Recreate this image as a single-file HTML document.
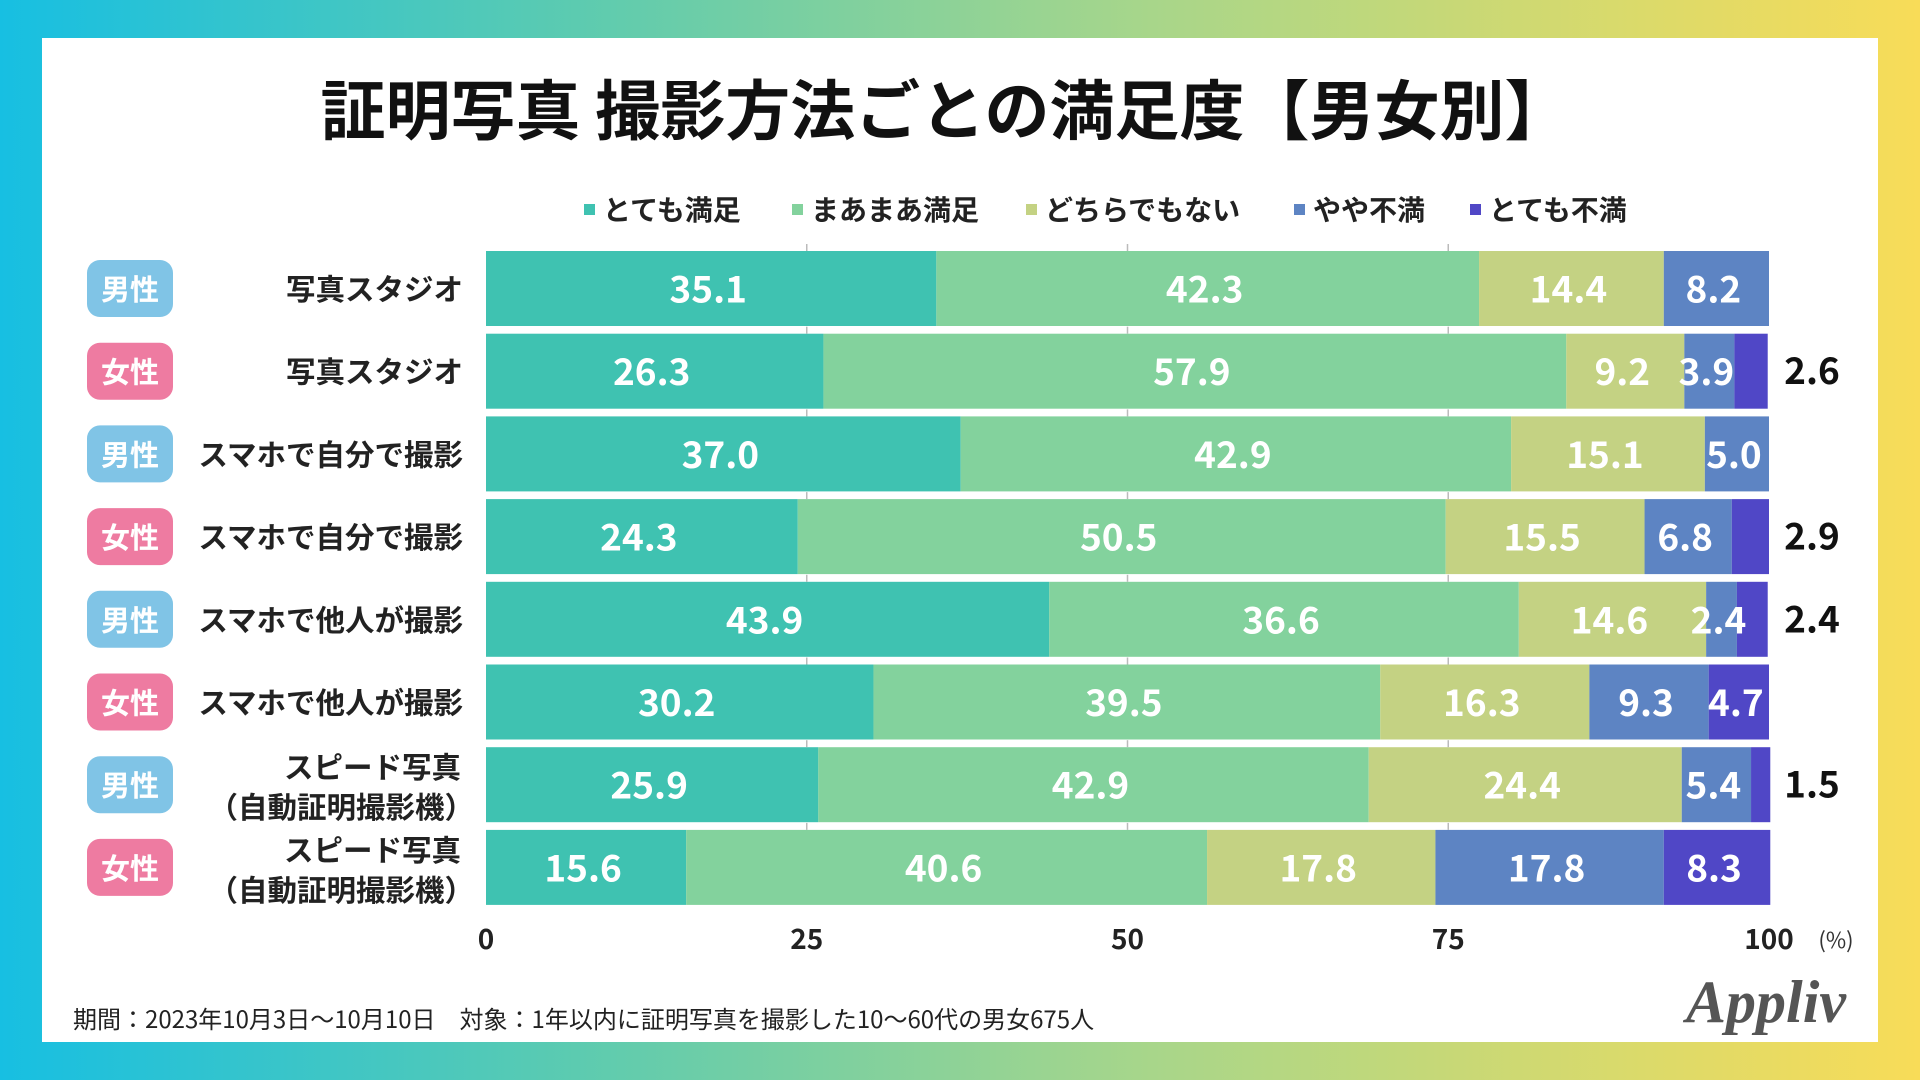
<!DOCTYPE html>
<html><head><meta charset="utf-8">
<style>
body{margin:0;width:1920px;height:1080px;overflow:hidden;background:linear-gradient(90deg,#17bfe2 0%,#5ccbb0 30%,#a8d68a 60%,#f8dc58 100%);font-family:"Noto Sans CJK JP","Liberation Sans",sans-serif;}
#panel{position:absolute;left:42px;top:38px;width:1836px;height:1004px;background:#fff;}
svg{position:absolute;left:0;top:0;font-family:"Noto Sans CJK JP","Liberation Sans",sans-serif}
</style></head><body>
<div id="panel"></div>
<svg id="chart" width="1920" height="1080"></svg>
<script>
const categories=["写真スタジオ","写真スタジオ","スマホで自分で撮影","スマホで自分で撮影","スマホで他人が撮影","スマホで他人が撮影","スピード写真\n（自動証明撮影機）","スピード写真\n（自動証明撮影機）"];
const genders=["男性","女性","男性","女性","男性","女性","男性","女性"];
const seriesNames=["とても満足","まあまあ満足","どちらでもない","やや不満","とても不満"];
const s1=[35.1,26.3,37.0,24.3,43.9,30.2,25.9,15.6];
const s2=[42.3,57.9,42.9,50.5,36.6,39.5,42.9,40.6];
const s3=[14.4,9.2,15.1,15.5,14.6,16.3,24.4,17.8];
const s4=[8.2,3.9,5.0,6.8,2.4,9.3,5.4,17.8];
const s5=[0,2.6,0,2.9,2.4,4.7,1.5,8.3];
const ticks=[0,25,50,75,100];
const colors=["#3fc2b1","#83d29d","#c4d283","#5d84c3","#5047c6"];
const series=[s1,s2,s3,s4,s5];
const NS="http://www.w3.org/2000/svg";
const svg=document.getElementById('chart');
const X0=486,X1=1769,TOP=251,PITCH=82.7,BH=75;
const x=v=>X0+(X1-X0)*v/100;
const y=i=>TOP+i*PITCH;
function mk(tag,attrs,txt){const e=document.createElementNS(NS,tag);for(const k in attrs)e.setAttribute(k,attrs[k]);if(txt!==undefined)e.textContent=txt;svg.appendChild(e);return e;}
let t=mk('text',{x:945,y:134,'text-anchor':'middle','font-size':65,'font-weight':'bold',fill:'#111'},'証明写真 撮影方法ごとの満足度【男女別】');


const lx=[605,813,1047,1315,1491];
seriesNames.forEach((n,i)=>{
 let r=mk('rect',{x:lx[i]-21,y:204,width:11,height:11,fill:colors[i]});
 
 
 let tt=mk('text',{x:lx[i]-2,y:220,'font-size':28,'font-weight':'bold',fill:'#222'},n);
 
 
});
categories.forEach((c,i)=>{
 let acc=0;
 series.forEach((s,k)=>{
  const v=s[i]; if(v<=0){return;}
  let r=mk('rect',{x:x(acc),y:y(i),width:x(acc+v)-x(acc),height:BH,fill:colors[k]});
  
  
  acc+=v;
 });
});
ticks.slice(1,4).forEach(tk=>{
 for(let i=0;i<categories.length;i++){
  let l=mk('line',{x1:x(tk),x2:x(tk),y1:y(i)-7,y2:y(i),stroke:'#bbb','stroke-width':1.5});
  
  
 }
});
categories.forEach((c,i)=>{
 let acc=0;
 series.forEach((s,k)=>{
  const v=s[i]; if(v<=0)return;
  const cx=(x(acc)+x(acc+v))/2; acc+=v;
  if(k===4&&v<4){
   let o=mk('text',{x:1812,y:y(i)+BH/2+13,'text-anchor':'middle','font-size':37,'font-weight':'bold',fill:'#111'},v.toFixed(1));
   
   
   return;
  }
  let tl=mk('text',{x:cx-3,y:y(i)+BH/2+14,'text-anchor':'middle','font-size':37,'font-weight':'bold',fill:'#fff'},v.toFixed(1));
  
  
 });
 const male=genders[i]==='男性';
 let b=mk('rect',{x:87,y:y(i)+9,width:86,height:57,rx:13,fill:male?'#80c4e6':'#ee7ba1'});
 
 
 let bt=mk('text',{x:130,y:y(i)+49,'text-anchor':'middle','font-size':29,'font-weight':'bold',fill:'#fff'},genders[i]);
 
 
 const lines=c.split('\n');
 lines.forEach((ln,j)=>{
  const yy=lines.length===1?y(i)+49:y(i)+31+j*40;
  const xx=lines.length===1?463:(j===0?461:474);
  let ct=mk('text',{x:xx,y:yy,'text-anchor':'end','font-size':29.5,'font-weight':'bold',fill:'#222'},ln);
  
  
 });
});
ticks.forEach(tk=>{
 let a=mk('text',{x:x(tk),y:949,'text-anchor':'middle','font-size':28,'font-weight':'bold',fill:'#222'},String(tk));
 
 
});
let u=mk('text',{x:1836,y:948,'text-anchor':'middle','font-size':22,fill:'#333'},'(%)');


let f=mk('text',{x:73,y:1028,'font-size':24,fill:'#222'},'期間：2023年10月3日〜10月10日　対象：1年以内に証明写真を撮影した10〜60代の男女675人');


let lg=mk('text',{x:1766,y:1022,'text-anchor':'middle','font-size':60,'font-style':'italic','font-weight':'bold','font-family':'Liberation Serif, serif',fill:'#555'},'Appliv');


</script>
</body></html>
